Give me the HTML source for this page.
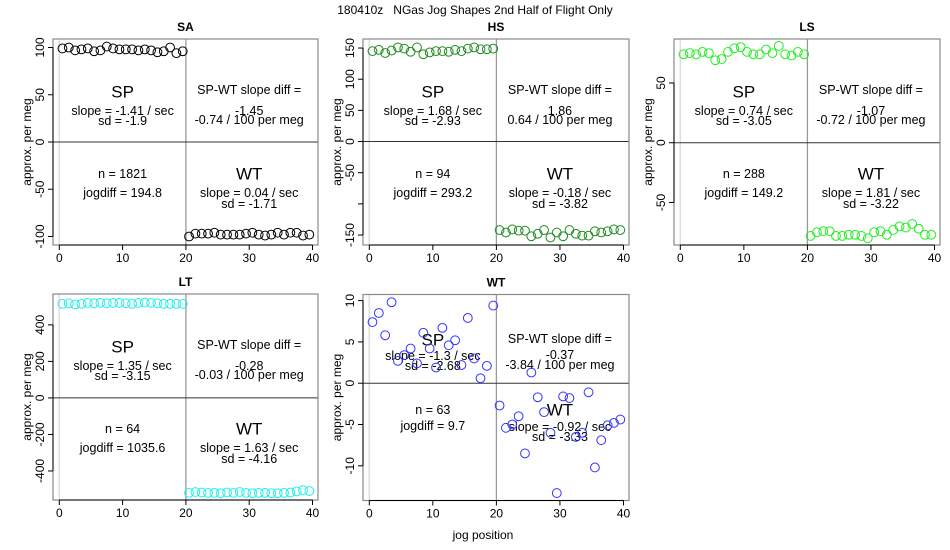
<!DOCTYPE html>
<html><head><meta charset="utf-8"><style>
body{margin:0;background:#fff;}
svg{display:block;font-family:"Liberation Sans",sans-serif;}
</style></head><body>
<svg id="chart" width="950" height="550" viewBox="0 0 950 550" xmlns="http://www.w3.org/2000/svg">
<text x="475" y="14" text-anchor="middle" font-size="12" style="white-space:pre">180410z   NGas Jog Shapes 2nd Half of Flight Only</text>
<text x="483" y="539" text-anchor="middle" font-size="12">jog position</text>
</svg>
<script>
const jogX = [];
for (let i = 0; i < 40; i++) jogX.push(i + 0.5);
const saValues = [99,100,97,98,99,96,97,101,99,98,98,98,97,98,97,95,96,100,94,96,
 -100,-97,-97,-97,-96,-98,-98,-98,-98,-97,-96,-98,-99,-98,-96,-98,-96,-96,-99,-98];
const hsValues = [145,147,142,146,151,149,144,151,140,143,145,145,144,147,145,149,151,148,148,149,
 -142,-146,-141,-143,-143,-152,-148,-142,-154,-146,-152,-142,-148,-151,-151,-144,-146,-144,-141,-142];
const lsValues = [74,75,74,76,75,69,70,76,79,80,76,74,74,78,75,81,74,73,76,74,
 -78,-75,-74,-74,-78,-78,-77,-77,-78,-80,-75,-74,-77,-73,-70,-71,-68,-72,-77,-77];
const ltValues = [515,518,512,515,520,518,520,518,520,520,518,515,520,522,520,518,515,515,515,515,
 -520,-515,-518,-520,-520,-522,-518,-520,-515,-520,-522,-520,-520,-522,-522,-520,-518,-512,-505,-510];
const wtValues = [7.4,8.5,5.8,9.8,2.7,3.4,4.2,2.4,6.1,4.2,1.9,6.7,4.6,5.2,2.2,7.9,3.0,0.6,2.1,9.4,
 -2.7,-5.4,-5.0,-4.0,-8.5,1.3,-1.7,-3.5,-6.0,-13.3,-1.6,-1.8,-6.5,-6.0,-1.1,-10.2,-6.9,-5.1,-4.8,-4.4];
const saTicks = [-100,-50,0,50,100];
const hsTicks = [-150,-100,-50,0,50,100,150];
const lsTicks = [-50,0,50];
const ltTicks = [-400,-200,0,200,400];
const wtTicks = [-10,-5,0,5,10];
const xTicks = [0,10,20,30,40];

const NS = "http://www.w3.org/2000/svg";
const svg = document.getElementById('chart');
function mk(tag, attrs, parent, txt){
  const e = document.createElementNS(NS, tag);
  for (const k in attrs) e.setAttribute(k, attrs[k]);
  if (txt !== undefined) e.textContent = txt;
  (parent || svg).appendChild(e);
  return e;
}

const panels = [
 {key:'sa', title:'SA', vals:saValues, ticks:saTicks, hide:[], L:53, R:318, T:39, B:245, ymin:-109, ymax:109, col:'#000000',
  txt:{sp:['slope = -1.41 / sec','sd = -1.9'], diff:['-1.45','-0.74 / 100 per meg'], n:'n = 1821', jd:'jogdiff = 194.8', wt:['slope = 0.04 / sec','sd = -1.71']}},
 {key:'hs', title:'HS', vals:hsValues, ticks:hsTicks, hide:[-100], L:363, R:629, T:39, B:245, ymin:-166, ymax:164.5, col:'#1f8a1f',
  txt:{sp:['slope = 1.68 / sec','sd = -2.93'], diff:['1.86','0.64 / 100 per meg'], n:'n = 94', jd:'jogdiff = 293.2', wt:['slope = -0.18 / sec','sd = -3.82']}},
 {key:'ls', title:'LS', vals:lsValues, ticks:lsTicks, hide:[], L:674, R:940, T:39, B:245, ymin:-85.6, ymax:86.8, col:'#22ee22',
  txt:{sp:['slope = 0.74 / sec','sd = -3.05'], diff:['-1.07','-0.72 / 100 per meg'], n:'n = 288', jd:'jogdiff = 149.2', wt:['slope = 1.81 / sec','sd = -3.22']}},
 {key:'lt', title:'LT', vals:ltValues, ticks:ltTicks, hide:[], L:53, R:318, T:294, B:500, ymin:-559, ymax:569, col:'#22eeee',
  txt:{sp:['slope = 1.35 / sec','sd = -3.15'], diff:['-0.28','-0.03 / 100 per meg'], n:'n = 64', jd:'jogdiff = 1035.6', wt:['slope = 1.63 / sec','sd = -4.16']}},
 {key:'wt', title:'WT', vals:wtValues, ticks:wtTicks, hide:[], L:363, R:629, T:294.5, B:500.5, ymin:-14.2, ymax:10.74, col:'#3333ff', special:true,
  txt:{sp:['slope = -1.3 / sec','sd = -2.68'], diff:['-0.37','-3.84 / 100 per meg'], n:'n = 63', jd:'jogdiff = 9.7', wt:['slope = -0.92 / sec','sd = -3.33']}}
];

panels.forEach(p => {
  const g = mk('g', {});
  
  
  const xs = v => (p.L + 6.3) + v * ((p.R - 5.5) - (p.L + 6.3)) / 40;
  const ys = v => p.B - (v - p.ymin) / (p.ymax - p.ymin) * (p.B - p.T);
  const t = mk('text', {x:(p.L+p.R)/2, y:p.T-8, 'text-anchor':'middle', 'font-size':12, 'font-weight':'bold'}, g, p.title);
  
  
  const l0 = mk('line', {x1:xs(0), x2:xs(0), y1:p.T, y2:p.B, stroke:'#dddddd', 'stroke-width':1.5}, g);
  
  
  const l20 = mk('line', {x1:xs(20), x2:xs(20), y1:p.T, y2:p.B, stroke:'#999999', 'stroke-width':1.3}, g);
  
  
  const h0 = mk('line', {x1:p.L, x2:p.R, y1:ys(0), y2:ys(0), stroke:'#333333', 'stroke-width':1}, g);
  
  
  const box = mk('rect', {x:p.L, y:p.T, width:p.R-p.L, height:p.B-p.T, fill:'none', stroke:'#888888', 'stroke-width':1.2}, g);
  
  
  const ya = mk('line', {x1:p.L, x2:p.L, y1:ys(p.ticks[0]), y2:ys(p.ticks[p.ticks.length-1]), stroke:'#000'}, g);
  
  
  p.ticks.forEach(v => {
    const y = ys(v);
    mk('line', {x1:p.L-5, x2:p.L, y1:y, y2:y, stroke:'#000'}, g);
    if (p.hide.indexOf(v) < 0) {
      const lb = mk('text', {x:p.L-9, y:y, transform:`rotate(-90 ${p.L-9} ${y})`, 'text-anchor':'middle', 'font-size':12}, g, String(v));
      
      
    }
  });
  const yt = mk('text', {x:p.L-22, y:(p.T+p.B)/2, transform:`rotate(-90 ${p.L-22} ${(p.T+p.B)/2})`, 'text-anchor':'middle', 'font-size':12}, g, 'approx. per meg');
  
  
  const xa = mk('line', {x1:xs(0), x2:xs(40), y1:p.B, y2:p.B, stroke:'#000'}, g);
  
  
  xTicks.forEach(v => {
    mk('line', {x1:xs(v), x2:xs(v), y1:p.B, y2:p.B+5, stroke:'#000'}, g);
    const lb = mk('text', {x:xs(v), y:p.B+17, 'text-anchor':'middle', 'font-size':12}, g, String(v));
    
    
  });
  const o = p.special ? {sp:45.5,s1:61.5,s2:71.5,dt:44.5,d1:60.5,d2:70.5,n:115.5,jd:131.5,wt:115.5,w1:132.5,w2:142.5}
                      : {sp:53,s1:72,s2:82,dt:51,d1:72,d2:81,n:135,jd:154,wt:135,w1:154,w2:165};
  const cx1 = xs(10), cx2 = xs(30), T = p.T;
  const lab = (x, y, s, size, name) => {
    const e = mk('text', {x:x, y:T+y, 'text-anchor':'middle', 'dominant-baseline':'central', 'font-size':size}, g, s);
    
    
  };
  lab(cx1, o.sp, 'SP', 17, 'sp-label');
  lab(cx1, o.s1, p.txt.sp[0], 12.5, 'sp-slope');
  lab(cx1, o.s2, p.txt.sp[1], 12.5, 'sp-sd');
  lab(cx2, o.dt, 'SP-WT slope diff =', 12.5, 'slope-diff-label');
  lab(cx2, o.d1, p.txt.diff[0], 12.5, 'slope-diff-value');
  lab(cx2, o.d2, p.txt.diff[1], 12.5, 'slope-diff-per-meg');
  lab(cx1, o.n, p.txt.n, 12.5, 'n-count');
  lab(cx1, o.jd, p.txt.jd, 12.5, 'jogdiff');
  lab(cx2, o.wt, 'WT', 17, 'wt-label');
  lab(cx2, o.w1, p.txt.wt[0], 12.5, 'wt-slope');
  lab(cx2, o.w2, p.txt.wt[1], 12.5, 'wt-sd');
  p.vals.forEach((v, i) => {
    const c = mk('circle', {cx:xs(jogX[i]), cy:ys(v), r:4.4, fill:'none', stroke:p.col, 'stroke-width':1}, g);
    
    
  });
});
</script>
</body></html>
